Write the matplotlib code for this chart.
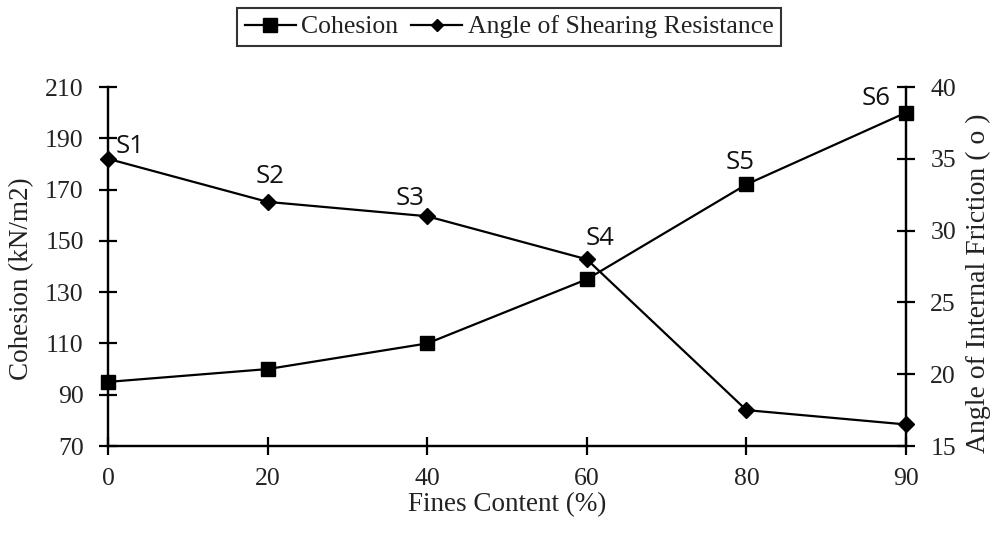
import matplotlib
matplotlib.use("Agg")
import matplotlib.pyplot as plt
from matplotlib.lines import Line2D

fines = ["0", "20", "40", "60", "80", "90"]
cohesion = [95, 100, 110, 135, 172, 200]
angle = [35, 32, 31, 28, 17.5, 16.5]
samples = ["S1", "S2", "S3", "S4", "S5", "S6"]
# which series each sample label is placed next to, and the offset (px) of the label centre
label_series = ["angle", "angle", "angle", "angle", "cohesion", "cohesion"]
label_offsets = [(22, 12), (2, 25), (-17, 18), (13, 21), (-6, 22), (-30, 14)]

serif = "Liberation Serif"
sans = "Open Sans"

fig = plt.figure(figsize=(9.92, 5.34), dpi=100)
ax = fig.add_axes([108/992, 1-446/534, (906-108)/992, (446-87)/534])
ax2 = ax.twinx()

x = list(range(len(fines)))
l1, = ax.plot(x, cohesion, color="black", lw=1.6, marker="s", ms=10, clip_on=False, zorder=3)
l2, = ax2.plot(x, angle, color="black", lw=1.6, marker="D", ms=8, clip_on=False, zorder=3)

ax.set_xlim(0, len(fines)-1)
ax.set_ylim(70, 210)
ax.set_yticks(range(70, 211, 20))
ax2.set_ylim(15, 40)
ax2.set_yticks(range(15, 41, 5))
ax.set_xticks(x)
ax.set_xticklabels(fines)

for a in (ax, ax2):
    a.spines["top"].set_visible(False)
    for s in a.spines.values():
        s.set_linewidth(1.6)
        s.set_color("black")
    a.tick_params(direction="inout", length=13, width=1.6, labelsize=18.5, colors="black")
    for lab in a.get_xticklabels() + a.get_yticklabels():
        lab.set_family(serif)
        lab.set_color("#222222")
ax.tick_params(axis="x", pad=9)
ax.tick_params(axis="y", pad=11)
ax2.tick_params(axis="y", pad=11)

ax.set_xlabel("Fines Content (%)", fontsize=19.5, family=serif, labelpad=2, color="#222222")
ax.set_ylabel("Cohesion (kN/m2)", fontsize=19.5, family=serif, color="#222222")
ax2.set_ylabel("Angle of Internal Friction ( o )", fontsize=20, family=serif, color="#222222")
ax.yaxis.set_label_coords((34-108)/798, (446-279)/359)
ax2.yaxis.set_label_coords((966-108)/798, (446-283)/359)

for i, s in enumerate(samples):
    if label_series[i] == "angle":
        a, yv = ax2, angle[i]
    else:
        a, yv = ax, cohesion[i]
    dx, dy = label_offsets[i]
    a.annotate(s, (x[i], yv), xytext=(dx*0.72, dy*0.72), textcoords="offset points",
               ha="center", va="center", fontsize=18.5, family=sans, color="#111111")

h1 = Line2D([], [], color="black", lw=1.6, marker="s", ms=10)
h2 = Line2D([], [], color="black", lw=1.6, marker="D", ms=6)
leg = fig.legend([h1, h2], ["Cohesion", "Angle of Shearing Resistance"], loc="center",
                 bbox_to_anchor=(509/992, 1-27/534), ncol=2, frameon=True, fancybox=False,
                 prop={"family": serif, "size": 18.5}, handlelength=2.0, handletextpad=0.2,
                 columnspacing=0.5, borderpad=0.3)
leg.get_frame().set_edgecolor("black")
leg.get_frame().set_linewidth(1.5)
for t in leg.get_texts():
    t.set_color("#222222")

fig.savefig("out.png", dpi=100)
